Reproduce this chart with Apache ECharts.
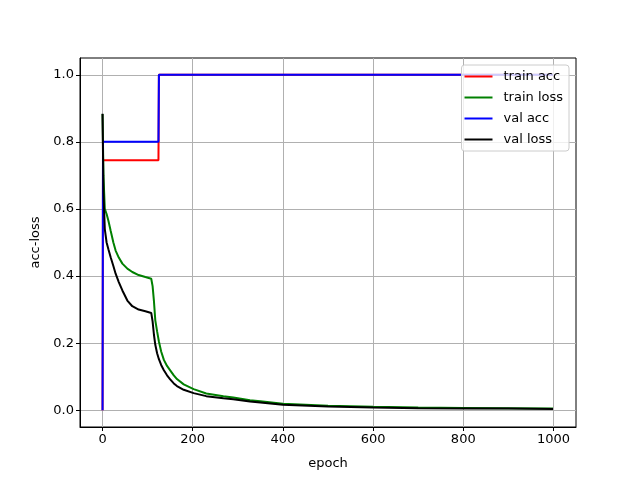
<!DOCTYPE html>
<html><head><meta charset="utf-8">
<script src="https://cdn.jsdelivr.net/npm/echarts@6/dist/echarts.min.js"></script>
<style>html,body{margin:0;padding:0;background:#fff}#c{width:640px;height:480px}</style>
</head><body><div id="c"></div>
<script>
const seriesNames = ['train acc', 'train loss', 'val acc', 'val loss'];
const accEpochs = [0, 1, 124, 125, 999];
const trainAcc = [0, 0.745, 0.745, 1.0, 1.0];
const valAcc = [0, 0.8, 0.8, 1.0, 1.0];
const lossEpochs = [0, 2, 5, 9, 13, 18, 24, 29, 36, 44, 55, 66, 80, 95, 108, 111, 114, 117, 121, 125, 130, 136, 143, 150, 158, 165, 180, 202, 230, 268, 290, 327, 350, 400, 500, 600, 700, 800, 900, 999];
const trainLoss = [0.883, 0.70, 0.60, 0.585, 0.565, 0.535, 0.50, 0.476, 0.455, 0.437, 0.422, 0.412, 0.403, 0.397, 0.392, 0.37, 0.325, 0.268, 0.235, 0.205, 0.175, 0.150, 0.132, 0.119, 0.104, 0.093, 0.077, 0.063, 0.050, 0.042, 0.038, 0.030, 0.027, 0.019, 0.013, 0.010, 0.008, 0.007, 0.006, 0.005];
const valLoss = [0.884, 0.65, 0.54, 0.50, 0.48, 0.456, 0.43, 0.407, 0.382, 0.357, 0.327, 0.31, 0.300, 0.295, 0.29, 0.265, 0.225, 0.195, 0.17, 0.152, 0.135, 0.119, 0.104, 0.092, 0.080, 0.072, 0.061, 0.051, 0.042, 0.036, 0.033, 0.026, 0.023, 0.016, 0.011, 0.008, 0.006, 0.005, 0.005, 0.004];
const xTicks = [0, 200, 400, 600, 800, 1000];
const yTicks = [0, 0.2, 0.4, 0.6, 0.8, 1.0];
const colors = ['#ff0000', '#008000', '#0000ff', '#000000'];

const zip = (xs, ys) => xs.map((x, i) => [x, ys[i]]);
const FONT = 'DejaVu Sans';
const chart = echarts.init(document.getElementById('c'), null, {renderer: 'canvas'});
const mk = (name, data, color) => ({
  name, type: 'line', data, symbol: 'none', animation: false,
  lineStyle: {color, width: 2}, itemStyle: {color}
});
chart.setOption({
  animation: false,
  textStyle: {fontFamily: FONT},
  grid: {left: 80, right: 64, top: 58, bottom: 53, show: true, borderColor: '#000', borderWidth: 1, backgroundColor: 'transparent'},
  xAxis: {
    type: 'value', min: -50, max: 1050,
    name: 'epoch', nameLocation: 'middle', nameGap: 30,
    nameTextStyle: {fontFamily: FONT, fontSize: 13, color: '#000'},
    axisLine: {show: true, onZero: false, lineStyle: {color: '#000', width: 1}},
    axisTick: {show: true, length: 4, inside: false, customValues: xTicks, lineStyle: {color: '#000'}},
    axisLabel: {customValues: xTicks, fontFamily: FONT, fontSize: 13, color: '#000', margin: 6, formatter: v => String(v)},
    splitLine: {show: true, lineStyle: {color: '#b0b0b0', width: 1}}
  },
  yAxis: {
    type: 'value', min: -0.05, max: 1.05,
    name: 'acc-loss', nameLocation: 'middle', nameGap: 38, nameRotate: 90,
    nameTextStyle: {fontFamily: FONT, fontSize: 13, color: '#000'},
    axisLine: {show: true, onZero: false, lineStyle: {color: '#000', width: 1}},
    axisTick: {show: true, length: 4, inside: false, customValues: yTicks, lineStyle: {color: '#000'}},
    axisLabel: {customValues: yTicks, fontFamily: FONT, fontSize: 13, color: '#000', margin: 6, formatter: v => v.toFixed(1)},
    splitLine: {show: true, lineStyle: {color: '#b0b0b0', width: 1}}
  },
  legend: {
    orient: 'vertical', right: 71, top: 65,
    data: seriesNames, icon: 'rect',
    backgroundColor: 'rgba(255,255,255,0.8)', borderColor: '#cccccc', borderWidth: 1, borderRadius: 3,
    padding: [5, 6, 5, 3], itemWidth: 28, itemHeight: 2, itemGap: 8,
    textStyle: {fontFamily: FONT, fontSize: 13, color: '#000', padding: [0, 0, 0, 6], lineHeight: 13}
  },
  series: [
    mk(seriesNames[0], zip(accEpochs, trainAcc), colors[0]),
    mk(seriesNames[1], zip(lossEpochs, trainLoss), colors[1]),
    mk(seriesNames[2], zip(accEpochs, valAcc), colors[2]),
    mk(seriesNames[3], zip(lossEpochs, valLoss), colors[3])
  ]
});
</script></body></html>
